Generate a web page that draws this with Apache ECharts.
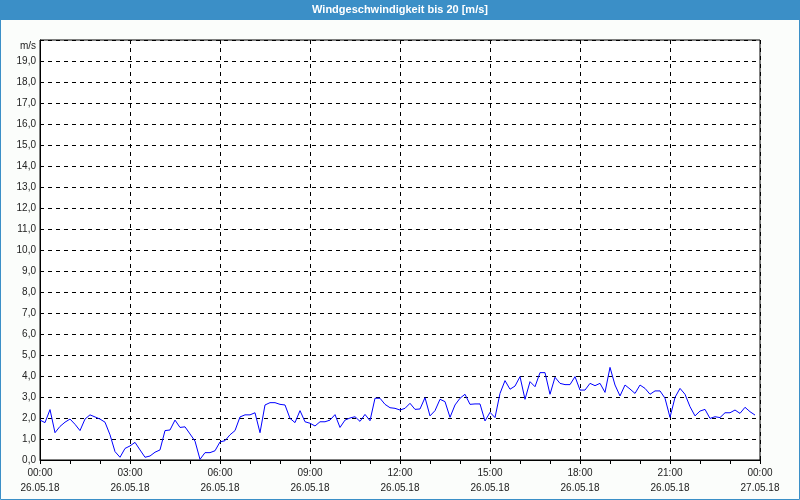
<!DOCTYPE html>
<html>
<head>
<meta charset="utf-8">
<script src="https://cdn.jsdelivr.net/npm/echarts@6/dist/echarts.min.js"></script>
<style>
html,body{margin:0;padding:0;background:#fbfdfb;}
#c{width:800px;height:500px;}
</style>
</head>
<body>
<div id="c"></div>
<script>
// Title and units
var titleText = 'Windgeschwindigkeit bis 20 [m/s]';
var unitLabel = 'm/s';
// X axis: hours 0..24, tick labels every 3 hours
var tickHours = [0, 3, 6, 9, 12, 15, 18, 21, 24];
var tickTimes = ['00:00', '03:00', '06:00', '09:00', '12:00', '15:00', '18:00', '21:00', '00:00'];
var tickDates = ['26.05.18', '26.05.18', '26.05.18', '26.05.18', '26.05.18', '26.05.18', '26.05.18', '26.05.18', '27.05.18'];
// Sample step: 10 minutes, starting 26.05.18 00:00
var stepMinutes = 10;
// Wind speed [m/s], one value every 10 minutes (00:00 .. 23:50)
var speeds = [
  1.90, 1.78, 2.40, 1.30, 1.60, 1.80, 1.95, 1.70, 1.40, 1.95, 2.15, 2.05,
  1.95, 1.80, 1.20, 0.40, 0.13, 0.55, 0.67, 0.84, 0.48, 0.13, 0.19, 0.37,
  0.48, 1.40, 1.43, 1.90, 1.55, 1.58, 1.24, 0.90, 0.03, 0.35, 0.35, 0.44,
  0.86, 0.92, 1.20, 1.40, 2.05, 2.15, 2.15, 2.25, 1.30, 2.62, 2.73, 2.73,
  2.65, 2.62, 1.98, 1.78, 2.35, 1.82, 1.75, 1.62, 1.82, 1.82, 1.90, 2.16,
  1.55, 1.90, 2.00, 2.06, 1.84, 2.17, 1.87, 2.94, 2.94, 2.65, 2.49, 2.46,
  2.38, 2.46, 2.70, 2.41, 2.43, 2.97, 2.10, 2.35, 2.89, 2.78, 2.03, 2.62,
  2.94, 3.13, 2.65, 2.67, 2.67, 1.86, 2.27, 2.02, 3.17, 3.78, 3.37, 3.52,
  3.97, 2.89, 3.73, 3.49, 4.16, 4.16, 3.13, 3.94, 3.65, 3.59, 3.59, 3.97,
  3.33, 3.33, 3.65, 3.54, 3.65, 3.22, 4.41, 3.57, 3.05, 3.57, 3.38, 3.17,
  3.57, 3.41, 3.13, 3.29, 3.29, 2.94, 2.03, 2.98, 3.41, 3.13, 2.54, 2.10,
  2.33, 2.41, 1.98, 2.06, 2.02, 2.25, 2.25, 2.38, 2.22, 2.51, 2.30, 2.14
];

var seriesData = speeds.map(function (v, i) { return [i * stepMinutes / 60, v]; });
var FONT = '"Liberation Sans", Arial, sans-serif';

var chart = echarts.init(document.getElementById('c'), null, {renderer: 'canvas'});
chart.setOption({
  backgroundColor: '#fbfdfb',
  animation: false,
  graphic: [
    {type: 'rect', shape: {x: 0, y: 0, width: 800, height: 20}, style: {fill: '#3b8fc7'}, z: 10},
    {type: 'rect', shape: {x: 0.5, y: 0.5, width: 799, height: 499}, style: {fill: null, stroke: '#3b8fc7', lineWidth: 1}, z: 10},
    {type: 'text', x: 400, y: 10, style: {text: titleText, fill: '#ffffff', font: 'bold 11px ' + FONT, textAlign: 'center', textVerticalAlign: 'middle'}, z: 11}
  ],
  grid: {left: 40, right: 40, top: 40, bottom: 40, show: true, borderColor: '#000', borderWidth: 1, backgroundColor: '#ffffff'},
  xAxis: {
    type: 'value', min: 0, max: 24, interval: 3,
    axisLine: {show: true, lineStyle: {color: '#000', width: 1}},
    axisTick: {show: true, length: 4, lineStyle: {color: '#000'}},
    minorTick: {show: true, splitNumber: 3, length: 4, lineStyle: {color: '#000'}},
    splitLine: {show: true, lineStyle: {color: '#000', type: [4, 4], width: 1}},
    axisLabel: {
      margin: 6, color: '#222', fontFamily: FONT, fontSize: 10, lineHeight: 15,
      formatter: function (v) {
        var k = tickHours.indexOf(v);
        return k < 0 ? '' : tickTimes[k] + '\n' + tickDates[k];
      }
    }
  },
  yAxis: {
    type: 'value', min: 0, max: 20, interval: 1,
    name: unitLabel, nameLocation: 'end', nameGap: -11,
    nameTextStyle: {color: '#222', fontFamily: FONT, fontSize: 10, align: 'right', padding: [0, 4, 0, 0]},
    axisLine: {show: true, lineStyle: {color: '#000', width: 1}},
    axisTick: {show: false},
    splitLine: {show: true, lineStyle: {color: '#000', type: [4, 4], width: 1}},
    axisLabel: {
      margin: 4, color: '#222', fontFamily: FONT, fontSize: 10,
      formatter: function (v) { return v >= 20 ? '' : v.toFixed(1).replace('.', ','); }
    }
  },
  series: [{
    type: 'line', data: seriesData, showSymbol: false, symbol: 'none',
    lineStyle: {color: '#0000ff', width: 1}, itemStyle: {color: '#0000ff'}
  }]
});
</script>
</body>
</html>
